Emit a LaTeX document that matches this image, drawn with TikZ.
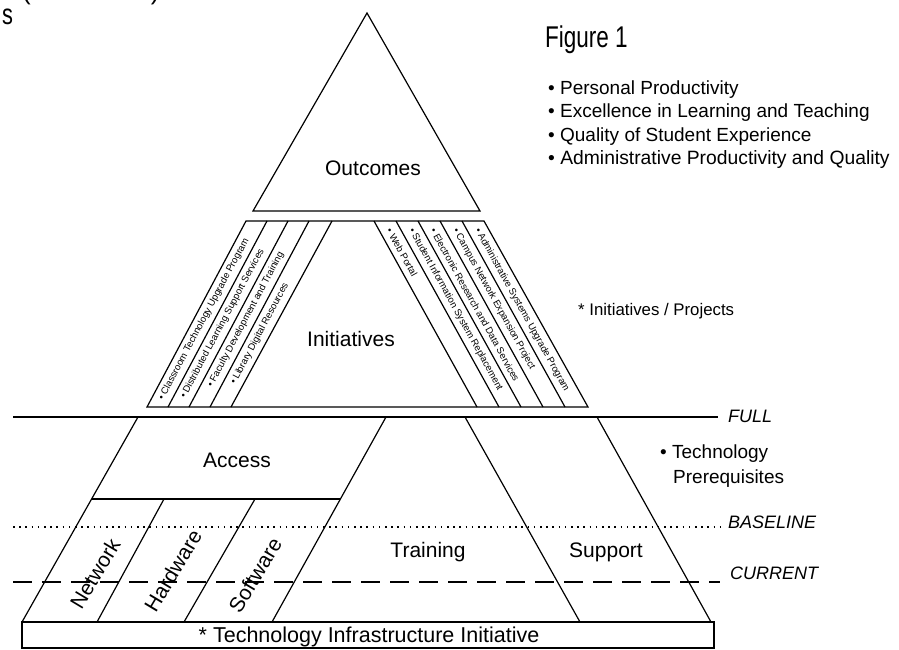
\documentclass[tikz,border=0pt]{standalone}
\usepackage{fontspec}
\usepackage{graphicx}
\setmainfont{Liberation Sans}
\begin{document}
\begin{tikzpicture}[x=1pt,y=-1pt,
  edge/.style={line width=1.2pt, line join=miter},
  levelline/.style={line width=1.5pt},
  mainlabel/.style={font=\fontsize{21}{25}\selectfont, inner sep=0pt, anchor=base},
  sidetext/.style={font=\fontsize{19}{23}\selectfont, inner sep=0pt, anchor=base west},
  leveltext/.style={font=\itshape\fontsize{18}{22}\selectfont, inner sep=0pt, anchor=base west},
  striptext/.style={font=\fontsize{9.6}{11}\selectfont, inner sep=0pt, anchor=west},
  slanted/.style={font=\fontsize{21}{25}\selectfont, inner sep=0pt, rotate=59},
  titletext/.style={font=\fontsize{30}{34}\selectfont, inner sep=0pt, anchor=base west},
]
\useasboundingbox (0,0) rectangle (899,649);
\clip (0,0) rectangle (899,649);

% ---- Outcomes triangle
\draw[edge] (367,13) -- (480,211) -- (253,211) -- cycle;
\node[mainlabel] (outcomes) at (373,175) {Outcomes};

% ---- Initiatives band with project strips
\draw[edge] (246,221) -- (484,221) -- (588,407) -- (147,407) -- cycle;
\foreach \b/\t in {168/267,189/288,210/309,231/332}
  \draw[edge] (\b,407) -- (\t,221);
\foreach \t/\b in {374/477,396/499,418/521,440/543,462/565}
  \draw[edge] (\t,221) -- (\b,407);
\node[mainlabel] (initiatives) at (351,346) {Initiatives};

\node[striptext, rotate=62] (l1) at (161,400) {• Classroom Technology Upgrade Program};
\node[striptext, rotate=62] (l2) at (183,398) {• Distributed Learning Support Services};
\node[striptext, rotate=62] (l3) at (210,387) {• Faculty Development and Training};
\node[striptext, rotate=62] (l4) at (233,384) {• Library Digital Resources};

\node[striptext, rotate=-61] (r1) at (389,229) {• Web Portal};
\node[striptext, rotate=-61] (r2) at (411,229) {• Student Information System Replacement};
\node[striptext, rotate=-61] (r3) at (433,229) {• Electronic Research and Data Services};
\node[striptext, rotate=-61] (r4) at (455,229) {• Campus Network Expansion Project};
\node[striptext, rotate=-61] (r5) at (477,229) {• Administrative Systems Upgrade Program};

% ---- Level lines
\draw[levelline] (13,417) -- (718,417);
\draw[levelline, dash pattern=on 1.6pt off 4.6pt] (13,527) -- (722,527);
\draw[levelline, dash pattern=on 19pt off 10pt] (13,582) -- (720,582);

% ---- Technology prerequisites
\draw[edge] (138,417) -- (22,622);
\draw[edge] (597,417) -- (711,622);
\draw[edge] (386,417) -- (272,622);
\draw[edge] (465,417) -- (580,622);
\draw[edge] (92,499) -- (340,499);
\draw[edge] (164,499) -- (97,622);
\draw[edge] (255,499) -- (184,622);
\draw[edge] (22,622) rectangle (714,648);

\node[mainlabel] (access) at (237,467) {Access};
\node[mainlabel] (training) at (428,557) {Training};
\node[mainlabel] (support) at (606,557) {Support};
\node[slanted] (network) at (95,574) {Network};
\node[slanted] (hardware) at (173,571) {Hardware};
\node[slanted] (software) at (255,575) {Software};
\node[mainlabel, font=\fontsize{21.5}{25}\selectfont] (infra) at (369,642) {* Technology Infrastructure Initiative};

% ---- Level names
\node[leveltext] (full) at (728,422) {FULL};
\node[leveltext] (baseline) at (728,528) {BASELINE};
\node[leveltext] (current) at (730,579) {CURRENT};

% ---- Right-hand notes
\node[sidetext] (prereq1) at (660,458) {• Technology};
\node[sidetext] (prereq2) at (673,483) {Prerequisites};
\node[sidetext, font=\fontsize{16.8}{20}\selectfont] (projects) at (578,315) {* Initiatives / Projects};

\node[titletext] (title) at (545,47) {\scalebox{0.75}[1]{Figure 1}};
\node[sidetext] (o1) at (548,94.5) {• Personal Productivity};
\node[sidetext] (o2) at (548,117.8) {• Excellence in Learning and Teaching};
\node[sidetext] (o3) at (548,141.2) {• Quality of Student Experience};
\node[sidetext, font=\fontsize{19.3}{23}\selectfont] (o4) at (548,164.5) {• Administrative Productivity and Quality};

% ---- Running text at the top edge
\node[titletext, font=\fontsize{29}{33}\selectfont] (frag1) at (2,24) {\scalebox{0.75}[1]{s}};
\node[inner sep=0pt, anchor=base west, font=\fontsize{26}{30}\selectfont] (frag2) at (22,-1) {(dotted line)};
\end{tikzpicture}
\end{document}
